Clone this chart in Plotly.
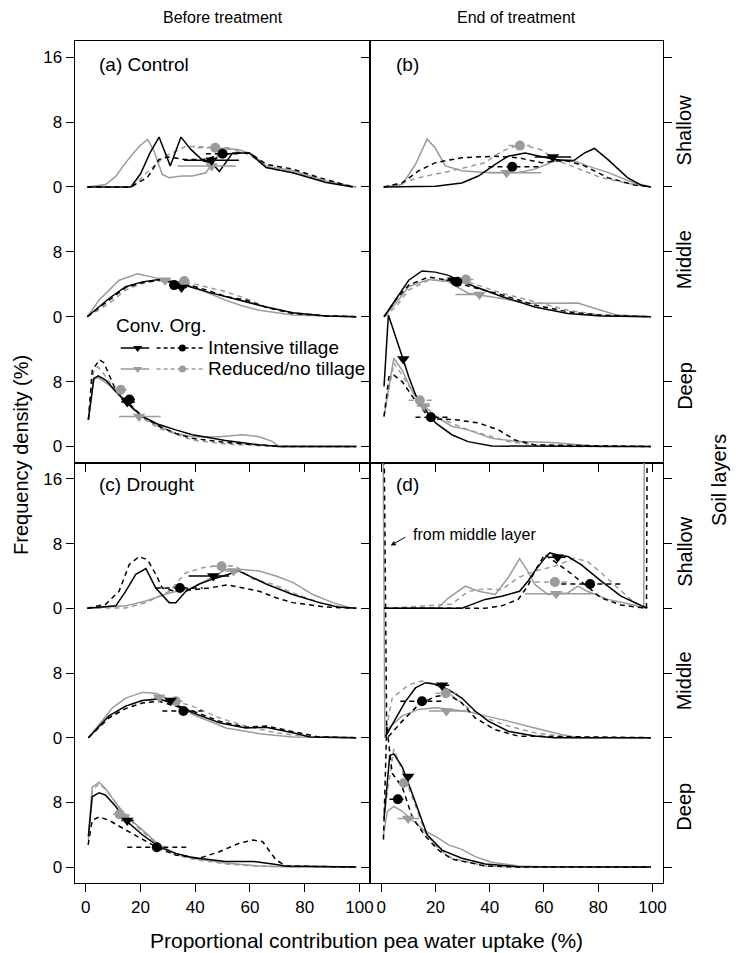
import plotly.graph_objects as go

# ---------------- data ----------------
# curves: <panel>_<layer>_<series>_x / _y   (frequency density, %)
# layers: sh = shallow, md = middle, dp = deep
# series: ci = Conv./intensive, oi = Org./intensive, cr = Conv./reduced, or = Org./reduced

# (a) Control, before treatment
a_sh_ci_x = [0.6, 16.5, 20, 23.5, 26.8, 30.9, 34.8, 38.5, 43, 46, 48.8, 53.7, 59.8, 65.9, 75.6, 87.8, 97.6]
a_sh_ci_y = [0, 0, 1.6, 4.2, 6.15, 2.6, 6.15, 4.6, 3.2, 3.0, 1.9, 4.2, 4.2, 2.4, 1.75, 0.55, 0]
a_sh_oi_x = [0.6, 16.5, 22.6, 26.8, 30, 36, 43, 50, 55, 59.8, 65.9, 75.6, 87.8, 97.6]
a_sh_oi_y = [0, 0, 1.2, 3.4, 3.7, 3.4, 3.4, 4.0, 4.2, 4.2, 2.8, 2.2, 0.9, 0]
a_sh_cr_x = [0.6, 7.3, 11, 14.6, 19.5, 22.6, 25, 28, 30.5, 35, 39, 43.9, 46.5, 50, 56, 61, 65.9, 75.6, 87.8, 98.8]
a_sh_cr_y = [0, 0.3, 1.3, 3.0, 5.0, 5.87, 4.4, 1.55, 1.15, 1.35, 1.35, 1.75, 3.0, 4.8, 4.6, 4.0, 2.6, 2.0, 0.75, 0]
a_sh_or_x = [0.6, 17, 23, 29, 36.6, 41.5, 47.6, 53.7, 59.8, 65.9, 75.6, 87.8, 98.8]
a_sh_or_y = [0, 0, 2.0, 3.8, 5.0, 5.0, 4.8, 4.6, 4.0, 2.4, 1.75, 0.7, 0]

a_md_ci_x = [0.6, 8.5, 14.6, 20.7, 26.8, 32, 39, 45, 51, 58.5, 65.9, 75.6, 87.8, 98.8]
a_md_ci_y = [0, 2.25, 3.7, 4.3, 4.6, 4.3, 3.6, 3.0, 2.5, 1.85, 1.2, 0.5, 0.1, 0]
a_md_oi_x = [0.6, 8.5, 14.6, 20.7, 26.8, 32, 39, 45, 51, 58.5, 65.9, 75.6, 87.8, 98.8]
a_md_oi_y = [0, 2.05, 3.6, 4.2, 4.5, 4.2, 3.8, 3.2, 2.5, 2.05, 1.15, 0.4, 0.1, 0]
a_md_cr_x = [0.6, 4.9, 12.2, 18.9, 26.8, 32, 39, 45, 51, 57, 63.4, 75.6, 87.8, 98.8]
a_md_cr_y = [0, 2.05, 4.5, 5.3, 4.7, 4.3, 3.7, 2.9, 2.05, 1.35, 0.8, 0.2, 0.05, 0]
a_md_or_x = [0.6, 8.5, 14.6, 20.7, 26.8, 32, 39, 45, 51, 58.5, 65.9, 75.6, 87.8, 98.8]
a_md_or_y = [0, 1.6, 3.3, 4.1, 4.5, 4.4, 4.1, 3.6, 3.1, 2.25, 1.2, 0.5, 0.1, 0]

a_dp_ci_x = [1, 3, 4.6, 7.3, 11, 14.6, 20.7, 26.8, 32.9, 39, 51, 63.4, 70.5, 98.8]
a_dp_ci_y = [3.3, 8.4, 8.7, 8.2, 6.8, 5.5, 3.7, 2.7, 2.05, 1.45, 0.75, 0.2, 0, 0]
a_dp_oi_x = [1, 2.4, 5.1, 6.7, 10.4, 14.6, 20.7, 26.8, 32.9, 39, 51, 63.4, 70.5, 98.8]
a_dp_oi_y = [3.3, 9.4, 10.7, 10.3, 7.4, 5.7, 3.7, 2.5, 1.6, 1.0, 0.5, 0.15, 0, 0]
a_dp_cr_x = [1, 3, 4.6, 8.5, 14.6, 20.7, 26.8, 32.9, 39, 48.8, 57.3, 63.4, 68.3, 70.5, 98.8]
a_dp_cr_y = [3.3, 8.3, 8.5, 7.6, 5.5, 3.7, 2.5, 1.6, 1.2, 1.2, 1.45, 1.2, 0.6, 0, 0]
a_dp_or_x = [1, 3, 4.5, 6.5, 10.4, 14.6, 20.7, 26.8, 39, 51, 63.4, 98.8]
a_dp_or_y = [3.3, 9.6, 9.8, 9.0, 7.2, 5.5, 3.5, 2.25, 0.8, 0.3, 0.1, 0]

# (b) Control, end of treatment
b_sh_ci_x = [0.9, 20, 29.7, 35.8, 42, 46.8, 53, 59, 64, 70.7, 75, 78.6, 83.5, 90.8, 95.7, 99.4]
b_sh_ci_y = [0, 0.1, 0.5, 1.35, 2.8, 3.8, 4.2, 3.8, 3.4, 3.2, 4.2, 4.75, 3.4, 1.15, 0.25, 0]
b_sh_oi_x = [0.9, 7.7, 13.8, 20, 29.7, 42, 50.5, 59, 64, 68.8, 75, 83.5, 93.3, 99.4]
b_sh_oi_y = [0, 0.5, 2.0, 3.0, 3.6, 3.8, 3.6, 3.0, 3.2, 3.2, 2.6, 1.15, 0.25, 0]
b_sh_cr_x = [0.9, 7.7, 12.6, 16.9, 19.9, 23.6, 29.7, 38.3, 50.5, 56.6, 63.9, 70, 76, 83.5, 93.3, 99.4]
b_sh_cr_y = [0, 0.3, 2.8, 5.9, 4.8, 2.6, 2.0, 1.8, 1.8, 2.2, 3.2, 3.4, 2.6, 1.8, 0.5, 0]
b_sh_or_x = [0.9, 7.7, 13.8, 26, 38.3, 44.4, 51, 59, 64, 71.3, 81, 93.3, 99.4]
b_sh_or_y = [0, 0.5, 1.15, 2.0, 3.0, 4.4, 5.25, 4.6, 3.4, 2.4, 1.15, 0.3, 0]

b_md_ci_x = [1, 5.3, 10.1, 15, 19.9, 24.8, 28.5, 34.6, 44.4, 56.6, 68.8, 81, 99.4]
b_md_ci_y = [0, 2.05, 4.5, 5.65, 5.5, 5.1, 4.5, 3.7, 2.5, 1.2, 0.4, 0.1, 0]
b_md_oi_x = [1, 5.3, 10.1, 17.5, 24.8, 32, 44.4, 56.6, 68.8, 81, 99.4]
b_md_oi_y = [0, 2.05, 3.9, 4.9, 4.5, 3.8, 2.7, 1.45, 0.6, 0.2, 0]
b_md_cr_x = [1, 5.3, 10.1, 17.5, 24.8, 32, 44.4, 54, 63.9, 72.5, 81, 87, 99.4]
b_md_cr_y = [0, 1.65, 3.7, 4.6, 4.3, 2.9, 2.25, 1.65, 1.65, 1.7, 0.8, 0.2, 0]
b_md_or_x = [1, 5.3, 10.1, 17.5, 24.8, 32, 44.4, 56.6, 68.8, 81, 99.4]
b_md_or_y = [0, 1.2, 3.3, 4.5, 4.5, 4.3, 2.9, 1.85, 0.8, 0.2, 0]

b_dp_ci_x = [1, 2.6, 7.7, 10.1, 12.6, 16.3, 20, 26, 32, 40.7, 99.4]
b_dp_ci_y = [7.4, 16.2, 11.1, 8.6, 6.4, 4.5, 2.9, 1.45, 0.6, 0.05, 0]
b_dp_oi_x = [1, 2.8, 4.6, 7.7, 11.4, 16.3, 20, 27.3, 35.8, 43.2, 49.3, 56.6, 99.4]
b_dp_oi_y = [3.7, 8.6, 8.8, 8.0, 6.2, 4.1, 3.4, 3.3, 2.9, 2.05, 0.8, 0.2, 0]
b_dp_cr_x = [1, 4.6, 7.7, 11.4, 15, 20, 26, 32, 40.7, 50.5, 62.7, 75, 81, 99.4]
b_dp_cr_y = [3.7, 10.9, 9.4, 6.8, 5.3, 3.7, 2.5, 2.05, 1.0, 0.6, 0.5, 0.2, 0, 0]
b_dp_or_x = [1, 4.6, 7.7, 11.4, 15, 20, 26, 32, 38.3, 46.8, 56.6, 68.8, 99.4]
b_dp_or_y = [3.7, 10.3, 8.8, 6.8, 4.9, 3.7, 2.9, 2.05, 1.45, 0.6, 0.2, 0, 0]

# (c) Drought, before treatment
c_sh_ci_x = [0.6, 11, 14.6, 18.3, 22, 25.6, 30.5, 32.9, 36.6, 41.5, 46.3, 52.4, 56, 61, 65.9, 75.6, 85.4, 92, 98.8]
c_sh_ci_y = [0, 0.3, 2.1, 4.2, 4.9, 2.5, 0.7, 0.7, 2.1, 3.0, 3.6, 4.2, 4.6, 3.8, 3.0, 1.7, 0.7, 0.15, 0]
c_sh_oi_x = [0.6, 7.3, 12.2, 15.9, 19.5, 22.6, 25.6, 28, 32.9, 39, 45, 51.8, 57.3, 63.4, 69.5, 75.6, 87.8, 98.8]
c_sh_oi_y = [0, 0.5, 2.1, 5.4, 6.4, 6.0, 4.2, 2.5, 2.1, 2.3, 2.5, 2.9, 2.5, 2.1, 1.3, 0.7, 0.15, 0]
c_sh_cr_x = [0.6, 14.6, 22, 30.5, 39, 45, 51.2, 57.3, 63.4, 69.5, 75.6, 83, 90.2, 96.3, 98.8]
c_sh_cr_y = [0, 0.3, 0.9, 1.9, 2.5, 3.6, 4.8, 4.8, 4.6, 4.0, 3.2, 1.7, 0.7, 0.1, 0]
c_sh_or_x = [0.6, 14.6, 22, 30.5, 36.6, 42.7, 48.8, 54.9, 61, 68.3, 75.6, 85.4, 93.9, 98.8]
c_sh_or_y = [0, 0.05, 0.7, 2.1, 4.4, 5.0, 5.3, 5.2, 3.6, 3.0, 1.9, 0.7, 0.1, 0]

c_md_ci_x = [1, 8.5, 14.6, 20.7, 26.8, 32.9, 39, 48.8, 58.5, 65.9, 75.6, 82, 98.8]
c_md_ci_y = [0, 2.7, 3.9, 4.6, 4.8, 4.1, 3.1, 1.85, 1.2, 1.3, 0.6, 0.1, 0]
c_md_oi_x = [1, 8.5, 14.6, 20.7, 26.8, 32.9, 39, 48.8, 58.5, 65.9, 75.6, 85, 98.8]
c_md_oi_y = [0, 2.45, 3.6, 4.3, 4.5, 3.9, 3.3, 2.05, 1.3, 1.45, 0.8, 0.1, 0]
c_md_cr_x = [1, 4.9, 9.8, 14.6, 20.7, 25.6, 29.3, 39, 51.2, 63.4, 75.6, 98.8]
c_md_cr_y = [0, 1.65, 3.7, 4.9, 5.6, 5.5, 4.9, 2.9, 1.2, 0.5, 0.1, 0]
c_md_or_x = [1, 8.5, 14.6, 20.7, 26.8, 32.9, 39, 48.8, 58.5, 69.5, 81.7, 98.8]
c_md_or_y = [0, 2.45, 3.9, 4.6, 4.8, 4.5, 3.9, 2.45, 1.45, 0.6, 0.1, 0]

c_dp_ci_x = [1, 2.4, 4.9, 7.3, 11, 14.6, 20.7, 26.8, 32.9, 39, 51, 61, 68.3, 73, 98.8]
c_dp_ci_y = [3.8, 8.7, 9.2, 8.9, 7.5, 5.8, 4.0, 2.5, 1.7, 1.2, 0.7, 0.7, 0.4, 0.15, 0]
c_dp_oi_x = [0.9, 2.4, 4.9, 8.5, 14.6, 20.7, 26.8, 32.9, 41.5, 48.8, 56, 61, 64.6, 69.5, 73, 98.8]
c_dp_oi_y = [2.75, 5.8, 6.2, 5.8, 4.6, 3.4, 2.3, 1.5, 1.1, 1.9, 2.95, 3.35, 3.15, 0.9, 0.15, 0]
c_dp_cr_x = [1, 2.4, 4.9, 7.3, 11, 14.6, 20.7, 26.8, 32.9, 39, 51, 63.4, 75.6, 98.8]
c_dp_cr_y = [3.8, 9.9, 10.5, 9.7, 7.9, 6.4, 4.6, 2.75, 1.7, 1.1, 0.5, 0.15, 0, 0]
c_dp_or_x = [1, 2.4, 4.9, 7.3, 11, 14.6, 20.7, 26.8, 32.9, 39, 51, 63.4, 98.8]
c_dp_or_y = [3.3, 9.5, 10.3, 9.6, 8.0, 6.3, 4.4, 2.6, 1.5, 1.0, 0.4, 0.1, 0]

# (d) Drought, end of treatment
d_sh_ci_x = [1, 29.7, 32, 38.3, 44.4, 51, 54.2, 56.6, 60.3, 62.1, 65.2, 68.8, 73.7, 81, 88.4, 95.7, 98]
d_sh_ci_y = [0, 0, 0.3, 1.1, 1.5, 2.1, 3.4, 4.6, 6.2, 6.85, 6.6, 6.4, 5.4, 3.4, 1.5, 0.3, 0]
d_sh_oi_x = [1, 38.3, 44.4, 50.5, 54, 56.6, 60.3, 64, 68.8, 75, 81, 88.4, 97.8, 98.8]
d_sh_oi_y = [0, 0, 0.3, 1.1, 2.75, 4.6, 6.65, 5.8, 4.6, 2.95, 1.3, 0.4, 0, 80]
d_sh_cr_x = [1, 21, 24.8, 31, 35.8, 42, 46.8, 51, 54, 56.6, 61.5, 68.8, 72.5, 76, 83.5, 93.3, 96.8, 97.6]
d_sh_cr_y = [0, 0.1, 1.3, 2.75, 2.1, 1.7, 3.8, 6.15, 4.6, 2.95, 1.7, 1.9, 2.75, 2.1, 1.1, 0.4, 0, 80]
d_sh_or_x = [1, 26, 32, 38.3, 44.4, 50.5, 56.6, 64, 71.3, 76, 81, 88.4, 93.3, 99]
d_sh_or_y = [0, 0.5, 2.1, 2.4, 2.3, 3.8, 4.6, 5.2, 6.2, 5.8, 4.4, 2.1, 0.7, 0]

d_md_ci_x = [1.6, 5.3, 8.9, 12.6, 16.3, 19.9, 24.8, 29.7, 34.6, 39.5, 46.8, 56.6, 63.9, 99.4]
d_md_ci_y = [0.2, 2.45, 4.5, 6.15, 6.8, 6.6, 5.95, 4.9, 3.3, 2.05, 0.8, 0.2, 0, 0]
d_md_oi_x = [0.4, 2.0, 2.8, 7.7, 13.8, 19.9, 24.8, 29.7, 34.6, 41.9, 50.5, 99.4]
d_md_oi_y = [60, 0.1, 0.2, 2.05, 4.1, 5.1, 5.3, 4.3, 2.45, 1.0, 0.2, 0]
d_md_cr_x = [0.6, 1.3, 2.8, 7.7, 13.8, 19.9, 26, 32, 38.3, 46.8, 56.6, 66.4, 73, 99.4]
d_md_cr_y = [40, 0, 1.2, 2.7, 3.5, 3.7, 3.5, 3.2, 2.7, 2.05, 1.2, 0.4, 0, 0]
d_md_or_x = [1.2, 4, 10.1, 15, 19.9, 27.3, 32, 38.3, 46.8, 56.6, 68.8, 99.4]
d_md_or_y = [0, 4.9, 6.55, 7.0, 6.6, 4.9, 3.7, 2.45, 1.45, 0.6, 0.1, 0]

d_dp_ci_x = [1, 3.1, 4.6, 7.7, 11.4, 16.9, 22.4, 29.7, 38.3, 50.5, 99.4]
d_dp_ci_y = [6.0, 13.8, 14.0, 12.4, 9.1, 4.0, 2.1, 1.1, 0.4, 0.05, 0]
d_dp_oi_x = [0.8, 2.0, 4.0, 7.7, 11.4, 16.3, 21.1, 26, 38.3, 50, 99.4]
d_dp_oi_y = [3.4, 17.5, 11.6, 9.9, 6.2, 3.8, 2.1, 1.0, 0.15, 0, 0]
d_dp_cr_x = [0.7, 2.2, 4.6, 7.7, 11.4, 16.3, 20, 24.8, 29.7, 34.6, 40.7, 50.5, 62, 99.4]
d_dp_cr_y = [3.8, 6.9, 7.5, 6.9, 5.8, 4.4, 3.8, 2.75, 2.2, 1.3, 0.6, 0.15, 0, 0]
d_dp_or_x = [1, 4.6, 7.7, 11.4, 16.3, 21, 26, 38.3, 50, 99.4]
d_dp_or_y = [6.4, 14.6, 12.0, 8.7, 4.2, 2.3, 1.1, 0.15, 0, 0]

# means (symbols) with horizontal interval; order per panel:
# sh ci, sh oi, sh cr, sh or, md ci, md oi, md cr, md or, dp ci, dp oi, dp cr, dp or
a_mean_x = [46, 50, 46, 47.3, 35, 32.3, 29, 36, 15.2, 16, 19.5, 12.8]
a_mean_y = [3.3, 4.1, 2.6, 4.84, 3.6, 3.9, 4.5, 4.4, 5.5, 5.8, 3.7, 7.0]
a_lo = [36, 43.9, 33.5, 40.9, 33, 30.5, 27, 34, 13, 14, 12.2, 11]
a_hi = [56, 56, 54.9, 53.7, 37, 34, 31, 38, 18, 18, 27.4, 15]
b_mean_x = [63.3, 48.3, 46.2, 51.1, 26.5, 28, 36.2, 31.2, 8.1, 18.3, 15.7, 14.2]
b_mean_y = [3.7, 2.5, 1.75, 5.1, 4.5, 4.3, 2.75, 4.6, 10.8, 3.6, 5.0, 5.7]
b_lo = [56.6, 39.5, 39.5, 47, 24, 26, 27.3, 29, 7, 12.6, 13, 10.1]
b_hi = [70, 59, 59, 55, 29, 30, 37.7, 34, 9.5, 24.8, 18, 18.6]
c_mean_x = [46.6, 34.4, 54, 49.6, 31, 35.7, 26.8, 32.9, 15.2, 26, 14, 12.4]
c_mean_y = [4.0, 2.5, 4.6, 5.2, 4.6, 3.3, 5.0, 4.5, 5.75, 2.45, 6.2, 6.55]
c_lo = [37.6, 25.6, 51, 46, 29, 28, 25, 30.5, 13, 15.2, 12, 10]
c_hi = [52.4, 42.7, 57, 53, 33, 42.7, 29, 35.5, 17.5, 37.2, 16, 15]
d_mean_x = [65, 77, 64.5, 64, 22.4, 15, 24, 23.8, 9.9, 6.1, 9.9, 8.3]
d_mean_y = [6.3, 3.0, 1.8, 3.25, 6.5, 4.5, 3.3, 5.5, 11.2, 8.4, 6.0, 10.4]
d_lo = [62, 66.4, 53, 56.6, 20, 7, 17.5, 20, 8.5, 3, 6, 7]
d_hi = [68, 89, 78.6, 70, 25, 23, 31, 28, 11.5, 9, 14, 9.6]

x_ticks = [0, 20, 40, 60, 80, 100]
y_tickvals = [0, 8, 16, 24, 32, 40, 48]
y_ticktext = ["0", "8", "0", "8", "0", "8", "16"]
panel_labels = ["(a) Control", "(b)", "(c) Drought", "(d)"]
col_titles = ["Before treatment", "End of treatment"]
layer_names = ["Shallow", "Middle", "Deep"]
legend_labels = ["Intensive tillage", "Reduced/no tillage"]

# ---------------- styling / layout ----------------
W, H = 736, 953
GRAY = "#9b9b9b"
DASH = "5px,4px"
FONT = "Liberation Sans, Arial, sans-serif"
LAYERS = ["sh", "md", "dp"]
SERIES = ["ci", "oi", "cr", "or"]
OFFSET = {"sh": 32, "md": 16, "dp": 0}
STYLE = {"ci": ("black", "solid", "triangle-down"),
         "oi": ("black", DASH, "circle"),
         "cr": (GRAY, "solid", "triangle-down"),
         "or": (GRAY, DASH, "circle")}
PANELS = ["a", "b", "c", "d"]
AX = {"a": ("x", "y"), "b": ("x2", "y2"), "c": ("x3", "y3"), "d": ("x4", "y4")}
MEANS = {"a": (a_mean_x, a_mean_y, a_lo, a_hi), "b": (b_mean_x, b_mean_y, b_lo, b_hi),
         "c": (c_mean_x, c_mean_y, c_lo, c_hi), "d": (d_mean_x, d_mean_y, d_lo, d_hi)}

g = globals()
fig = go.Figure()
for p in PANELS:
    xa, ya = AX[p]
    for s in ["cr", "or", "ci", "oi"]:
        col, dash, _ = STYLE[s]
        for L in LAYERS:
            xs = g[f"{p}_{L}_{s}_x"]
            ys = [v + OFFSET[L] for v in g[f"{p}_{L}_{s}_y"]]
            fig.add_trace(go.Scatter(x=xs, y=ys, mode="lines", xaxis=xa, yaxis=ya,
                                     line=dict(color=col, width=1.5, dash=dash),
                                     hoverinfo="skip", showlegend=False))
    mx, my, lo, hi = MEANS[p]
    order = [(L, s) for L in LAYERS for s in SERIES]
    for i, (L, s) in enumerate(order):
        col, dash, _ = STYLE[s]
        yy = my[i] + OFFSET[L]
        fig.add_trace(go.Scatter(x=[lo[i], hi[i]], y=[yy, yy], mode="lines", xaxis=xa, yaxis=ya,
                                 line=dict(color=col, width=1.5, dash=dash),
                                 hoverinfo="skip", showlegend=False))
    for s in ["cr", "or", "ci", "oi"]:
        col, _, sym = STYLE[s]
        idx = [i for i, (L, ss) in enumerate(order) if ss == s]
        fig.add_trace(go.Scatter(x=[mx[i] for i in idx],
                                 y=[my[i] + OFFSET[order[i][0]] for i in idx],
                                 mode="markers", xaxis=xa, yaxis=ya,
                                 marker=dict(color=col, symbol=sym, size=11 if sym != "circle" else 10,
                                             line=dict(width=0)),
                                 hoverinfo="skip", showlegend=False))

# legend key drawn inside panel (a)
leg_rows = [(12.15, "black"), (9.56, GRAY)]
for yk, col in leg_rows:
    fig.add_trace(go.Scatter(x=[12.8, 23.2], y=[yk, yk], mode="lines", xaxis="x", yaxis="y",
                             line=dict(color=col, width=1.5), hoverinfo="skip", showlegend=False))
    fig.add_trace(go.Scatter(x=[25.9, 42.9], y=[yk, yk], mode="lines", xaxis="x", yaxis="y",
                             line=dict(color=col, width=1.5, dash="4px,3px"), hoverinfo="skip", showlegend=False))
    fig.add_trace(go.Scatter(x=[19.0], y=[yk], mode="markers", xaxis="x", yaxis="y",
                             marker=dict(color=col, symbol="triangle-down", size=8, line=dict(width=0)),
                             hoverinfo="skip", showlegend=False))
    fig.add_trace(go.Scatter(x=[35.3], y=[yk], mode="markers", xaxis="x", yaxis="y",
                             marker=dict(color=col, symbol="circle", size=7, line=dict(width=0)),
                             hoverinfo="skip", showlegend=False))

XD = {"L": [75 / W, 372 / W], "R": [372 / W, 666 / W]}
YD = {"T": [1 - 462.7 / H, 1 - 41 / H], "B": [1 - 883.3 / H, 1 - 462.7 / H]}
common_x = dict(range=[-4, 104], tickvals=x_ticks, ticks="outside", ticklen=8, tickcolor="black",
                showline=True, linecolor="black", linewidth=1, mirror=True, showgrid=False,
                zeroline=False, tickfont=dict(size=17, color="black", family=FONT))
common_y = dict(range=[-2, 50], tickvals=y_tickvals, ticktext=y_ticktext, ticks="outside", ticklen=8,
                tickcolor="black", showline=True, linecolor="black", linewidth=1, showgrid=False,
                zeroline=False, tickfont=dict(size=17, color="black", family=FONT))
layout_axes = {}
for p, (xd, yd) in zip(PANELS, [("L", "T"), ("R", "T"), ("L", "B"), ("R", "B")]):
    xa, ya = AX[p]
    xk = "xaxis" if xa == "x" else "xaxis" + xa[1:]
    yk = "yaxis" if ya == "y" else "yaxis" + ya[1:]
    layout_axes[xk] = dict(common_x, domain=XD[xd], anchor=ya, showticklabels=(yd == "B"))
    layout_axes[yk] = dict(common_y, domain=YD[yd], anchor=xa, showticklabels=(xd == "L"),
                           mirror=(True if xd == "L" else "ticks"))

ann = []
def txt(x, y, t, size=17, xref="paper", yref="paper", xanchor="center", yanchor="middle", **kw):
    d = dict(x=x, y=y, text=t, xref=xref, yref=yref, showarrow=False,
             xanchor=xanchor, yanchor=yanchor,
             font=dict(size=size, color="black", family=FONT))
    d.update(kw)
    ann.append(d)

txt(223.5 / W, 1 - 18 / H, col_titles[0], 16)
txt(519 / W, 1 - 18 / H, col_titles[1], 16)
txt(368 / W, 1 - 940 / H, "Proportional contribution pea water uptake (%)", 21)
txt(21 / W, 1 - 455 / H, "Frequency density (%)", 20, textangle=-90)
txt(722 / W, 1 - 480 / H, "Soil layers", 20, textangle=-90)
for ya in ["y2", "y4"]:
    for name, yc in zip(layer_names, [39, 23, 7.5]):
        txt(687 / W, yc, name, 20, yref=ya, textangle=-90)
txt(4.1, 47.1, panel_labels[0], 19, xref="x", yref="y", xanchor="left")
txt(4.7, 47.1, panel_labels[1], 19, xref="x2", yref="y2", xanchor="left")
txt(4.1, 47.3, panel_labels[2], 19, xref="x3", yref="y3", xanchor="left")
txt(4.7, 47.3, panel_labels[3], 19, xref="x4", yref="y4", xanchor="left")
txt(10.4, 14.9, "Conv. Org.", 19, xref="x", yref="y", xanchor="left")
txt(43.9, 12.15, legend_labels[0], 19, xref="x", yref="y", xanchor="left")
txt(43.9, 9.56, legend_labels[1], 19, xref="x", yref="y", xanchor="left")
txt(10.8, 41.1, "from middle layer", 16, xref="x4", yref="y4", xanchor="left")
ann.append(dict(x=3.45, y=39.75, ax=9.4, ay=40.9, xref="x4", yref="y4", axref="x4", ayref="y4",
                text="", showarrow=True, arrowhead=2, arrowsize=1, arrowwidth=1, arrowcolor="black"))

fig.update_layout(width=W, height=H, margin=dict(l=0, r=0, t=0, b=0),
                  paper_bgcolor="white", plot_bgcolor="rgba(0,0,0,0)",
                  showlegend=False, font=dict(family=FONT, color="black"),
                  annotations=ann, **layout_axes)
fig.write_html("out.html", config={"displayModeBar": False, "staticPlot": True},
               post_script="document.body.style.margin='0';document.body.style.overflow='hidden';")
